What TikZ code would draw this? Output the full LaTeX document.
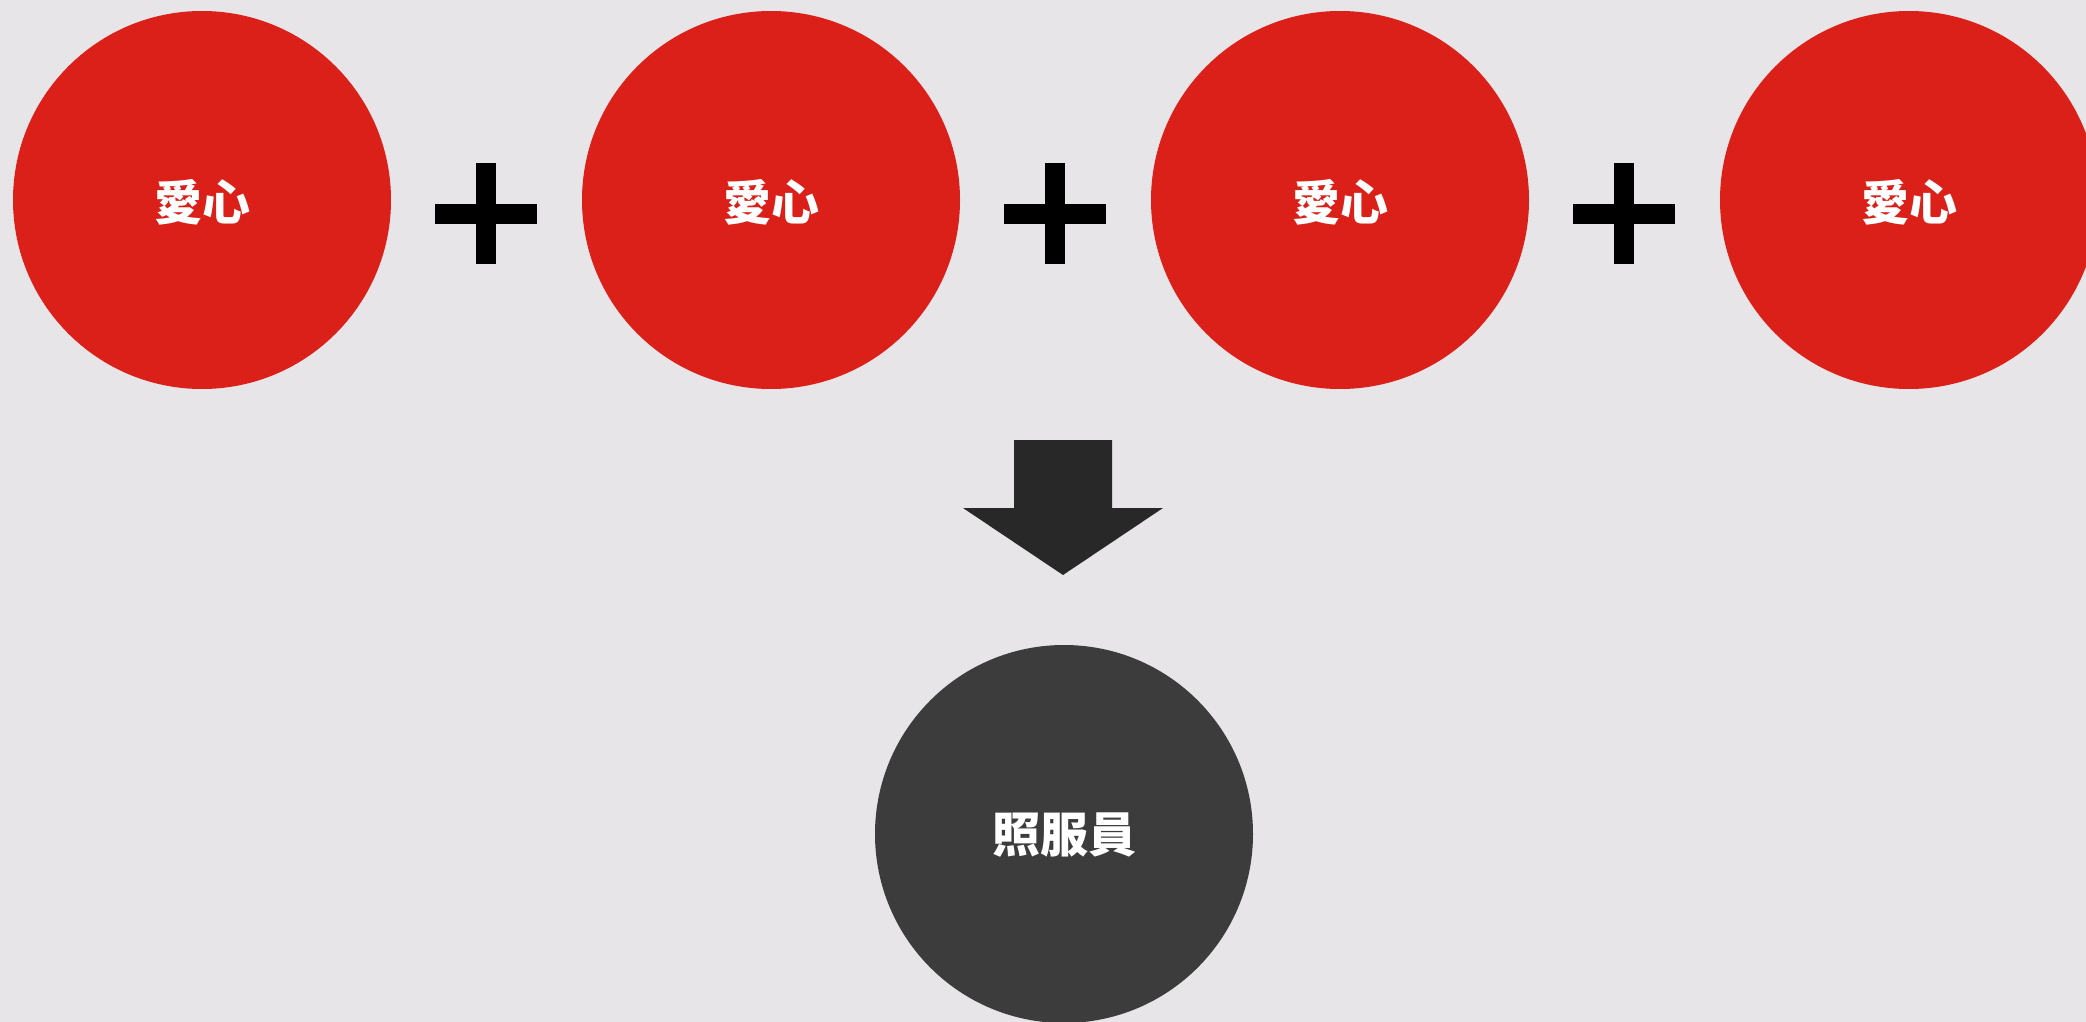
\documentclass[tikz,border=0pt]{standalone}
\usepackage{fontspec}
\newfontfamily\cjk{Noto Sans CJK TC}
\definecolor{bg}{HTML}{E7E5E8}
\definecolor{lovered}{HTML}{DB2019}
\definecolor{darkcirc}{HTML}{3C3C3C}
\definecolor{arrowc}{HTML}{282828}
\tikzset{
  ball/.style={circle, minimum size=378pt, inner sep=0pt, text=white,
    font=\cjk\bfseries\fontsize{48}{58}\selectfont},
  redball/.style={ball, fill=lovered},
  darkball/.style={ball, fill=darkcirc},
  plusbar/.style={fill=black},
  bigarrow/.style={fill=arrowc}
}
\begin{document}
\begin{tikzpicture}[x=1pt,y=-1pt]
\useasboundingbox (0,0) rectangle (2086,1022);
\clip (0,0) rectangle (2086,1022);
\fill[bg] (0,0) rectangle (2086,1022);
% red circles
\node[redball] (l1) at (202,200) {};
\node[redball] (l2) at (771,200) {};
\node[redball] (l3) at (1340,200) {};
\node[redball] (l4) at (1909,200) {};
\foreach \nm in {l1,l2,l3,l4}{
  \node[ball, minimum size=0pt] (\nm t) at ([yshift=-2]\nm.center) {愛心};
}
% plus signs
\foreach \cx/\nm in {486/p1,1055/p2,1624/p3}{
  \coordinate (\nm) at (\cx,213.5);
  \fill[plusbar] ([shift={(-51,-10)}]\nm) rectangle ([shift={(51,10)}]\nm);
  \fill[plusbar] ([shift={(-10,-50.5)}]\nm) rectangle ([shift={(10,50.5)}]\nm);
}
% arrow
\coordinate (atip) at (1063,575);
\fill[bigarrow] (1014,440) -- (1112,440) -- (1112,508) -- (1163,508) -- (atip)
  -- (963,508) -- (1014,508) -- cycle;
% result circle
\node[darkball] (carer) at (1064,834) {};
\node[ball, minimum size=0pt] (carert) at ([yshift=-1]carer.center) {照服員};
\end{tikzpicture}
\end{document}
